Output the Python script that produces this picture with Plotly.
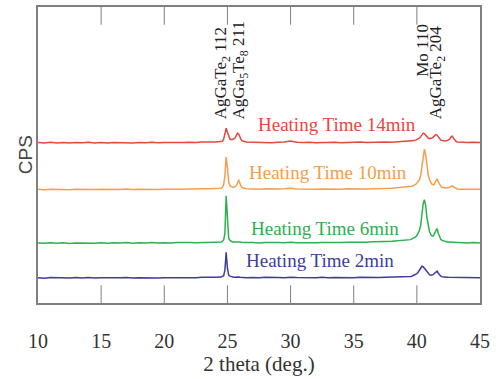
import plotly.graph_objects as go

# ---------------- data ----------------
# sampling positions in 2 theta (deg.)
x_a = [10, 10.5, 11, 11.5, 12, 12.5, 13, 13.5, 14, 14.5, 15, 15.5, 16, 16.5, 17,
       17.5, 18, 18.5, 19, 19.5, 20, 20.5, 21, 21.5, 22, 22.5, 23, 23.5, 24, 24.5]
x_b = [24.6, 24.7, 24.8, 24.9, 25.0, 25.1, 25.2, 25.3, 25.4, 25.5, 25.6, 25.7, 25.8,
       25.9, 26.0, 26.1, 26.2, 26.3, 26.4, 26.5]
x_c = [27, 27.5, 28, 28.5, 29, 29.5, 30, 30.5, 31, 31.5, 32, 32.5, 33, 33.5, 34, 34.5,
       35, 35.5, 36, 36.5, 37, 37.5, 38, 38.5, 39, 39.5]
x_d = [39.6, 39.7, 39.8, 39.9, 40.0, 40.1, 40.2, 40.3, 40.4, 40.5, 40.6, 40.7, 40.8,
       40.9, 41.0, 41.1, 41.2, 41.3, 41.4, 41.5, 41.6, 41.7, 41.8, 41.9, 42.0, 42.1,
       42.2, 42.3, 42.4, 42.5, 42.6, 42.7, 42.8, 42.9, 43.0, 43.1, 43.2]
x_e = [43.5, 44, 44.5, 45]
two_theta = x_a + x_b + x_c + x_d + x_e

series_names = ["Heating Time 2min", "Heating Time 6min", "Heating Time 10min", "Heating Time 14min"]
series_offsets = [25, 60, 114, 161]

cps_2min = (
    [0.4, 0.0, 0.6, 0.2, 0.5, 0.1, 0.6, 0.2, 0.7, 0.1, 0.5, 0.2, 0.6, 0.3, 0.6, 0.1,
     0.5, 0.3, 0.7, 0.2, 0.5, 0.4, 0.7, 0.4, 0.6, 0.5, 0.8, 0.6, 0.9, 1.1]
    + [1.5, 2.5, 8, 26, 10, 3, 2, 1.5, 1.2, 1.0, 1.0, 1.2, 1.3, 1.2, 1.0, 0.8, 0.9, 0.6, 0.8, 0.5]
    + [0.7, 0.3, 0.8, 0.4, 0.7, 0.5, 1.0, 0.6, 0.3, 0.7, 0.4, 0.8, 0.3, 0.7, 0.5, 0.9,
       0.4, 0.8, 0.6, 0.9, 0.7, 1.0, 1.0, 1.2, 1.4, 1.7]
    + [2, 2.5, 3, 3.5, 4.5, 6, 8.5, 11, 12, 11.5, 10, 8, 6, 4.5, 3.5, 3, 3, 3.5, 5, 6.5,
       7, 5, 3, 2, 1.5, 1.2, 1.0, 1.0, 0.9, 0.8, 0.8, 0.7, 0.7, 0.6, 0.6, 0.5, 0.5]
    + [0.6, 0.2, 0.6, 0.3]
)

cps_6min = (
    [0.5, 0.1, 0.7, 0.2, 0.6, 0.0, 0.5, 0.3, 0.8, 0.2, 0.6, 0.1, 0.7, 0.3, 0.8, 0.2,
     0.6, 0.3, 0.9, 0.3, 0.7, 0.4, 0.9, 0.5, 0.8, 0.6, 1.0, 0.8, 1.1, 1.4]
    + [2, 3.5, 10, 48, 20, 5, 3, 2, 1.5, 1.5, 1.5, 1.5, 1.8, 2, 1.5, 1.2, 1.0, 1.0, 0.8, 0.8]
    + [0.8, 0.4, 0.9, 0.5, 0.8, 0.6, 1.2, 0.7, 0.5, 0.9, 0.6, 1.0, 0.7, 1.1, 0.8, 1.2,
       1.0, 1.4, 1.2, 1.6, 1.5, 1.9, 2.1, 2.6, 3.1, 3.8]
    + [4.5, 5, 5.5, 6.5, 8, 10, 13, 18, 28, 40, 44, 38, 26, 17, 12, 9, 7.5, 7.5, 10, 14,
       15, 10, 6, 4, 3, 2.5, 2, 1.8, 1.5, 1.4, 1.3, 1.2, 1.2, 1.1, 1.0, 0.9, 0.8]
    + [0.7, 0.3, 0.8, 0.4]
)

cps_10min = (
    [0.4, 0.1, 0.6, 0.2, 0.5, 0.1, 0.6, 0.3, 0.7, 0.2, 0.5, 0.2, 0.6, 0.3, 0.7, 0.2,
     0.5, 0.3, 0.8, 0.3, 0.6, 0.4, 0.8, 0.5, 0.8, 0.6, 0.9, 1.0, 1.2, 1.6]
    + [2.5, 5, 14, 33, 22, 8, 4, 3, 2.5, 2.5, 3, 4, 7, 10, 6, 3, 2, 1.5, 1.2, 1.0]
    + [0.8, 0.4, 0.9, 0.5, 0.8, 0.9, 1.6, 0.8, 0.5, 0.9, 0.4, 0.8, 0.5, 0.9, 0.5, 0.9,
       0.6, 1.0, 0.7, 1.1, 0.9, 1.3, 1.5, 1.9, 2.4, 3.0]
    + [3.5, 4, 4.5, 5.5, 6.5, 8, 10, 14, 22, 34, 41, 35, 24, 15, 10, 7, 5.5, 5, 6, 9,
       11, 8, 5, 3.5, 2.5, 2, 1.8, 1.8, 2, 2.2, 2.5, 3.5, 4, 3, 2, 1.2, 0.8]
    + [0.6, 0.3, 0.7, 0.4]
)

cps_14min = (
    [0.5, 0.0, 0.8, 0.2, 0.6, 0.0, 0.5, 0.3, 0.9, 0.2, 0.6, 0.1, 0.7, 0.4, 0.8, 0.2,
     0.6, 0.3, 0.9, 0.4, 0.7, 0.5, 1.0, 0.6, 0.9, 0.5, 1.1, 0.8, 1.2, 1.5]
    + [2, 4, 9, 15, 11, 6, 4, 3.5, 3.5, 4, 5, 7, 10, 9, 5, 3, 2, 1.5, 1.2, 1.0]
    + [0.8, 0.5, 0.9, 0.4, 0.8, 1.0, 2.2, 0.8, 0.5, 0.9, 0.4, 0.8, 0.5, 0.9, 0.4, 0.8,
       0.6, 1.0, 0.5, 0.9, 0.6, 1.0, 0.8, 1.2, 1.3, 1.8]
    + [2, 2.2, 2.5, 3, 3.5, 4, 5, 6.5, 8.5, 10, 9.5, 8, 6, 5, 4.5, 4.5, 5, 6, 7.5, 8.5,
       8, 6, 4, 3, 2.5, 2.2, 2, 2.2, 2.5, 3, 4, 6, 7, 5, 3, 1.8, 1.2]
    + [0.8, 0.5, 0.9, 0.5]
)

series_values = [cps_2min, cps_6min, cps_10min, cps_14min]
series_colors = ["#3d3d9e", "#2eb04f", "#f59e4c", "#e9473d"]

x_ticks = [10, 15, 20, 25, 30, 35, 40, 45]

peak_labels = ["AgGaTe<sub>2</sub> 112", "AgGa<sub>5</sub>Te<sub>8</sub> 211",
               "Mo 110", "AgGaTe<sub>2</sub> 204"]
peak_label_x = [24.55, 25.98, 40.48, 41.6]
peak_label_y = [0.775, 0.785, 0.855, 0.78]

series_label_x = [32.33, 32.72, 32.96, 33.67]
series_label_y = [43, 75, 131, 180]

# ---------------- figure ----------------
fig = go.Figure()
for name, vals, off, col in zip(series_names, series_values, series_offsets, series_colors):
    fig.add_trace(go.Scatter(
        x=two_theta, y=[v + off for v in vals], mode="lines", name=name,
        line=dict(color=col, width=1.5), showlegend=False,
    ))

for name, lx, ly, col in zip(series_names, series_label_x, series_label_y, series_colors):
    fig.add_annotation(x=lx, y=ly, xref="x", yref="y", text=name, showarrow=False,
                       font=dict(family="Liberation Serif", size=19, color=col))

for txt, lx, ly in zip(peak_labels, peak_label_x, peak_label_y):
    fig.add_annotation(x=lx, y=ly, xref="x", yref="paper", text=txt, showarrow=False,
                       textangle=-90, xanchor="center", yanchor="middle",
                       font=dict(family="Liberation Serif", size=17, color="#222222"))

axis_col = "#808080"
tick_frac = 0.06  # inside tick length as a fraction of the plot height

# inside tick marks at bottom and top of the frame, one per x tick value
for tv in x_ticks[1:-1]:
    fig.add_shape(type="line", xref="x", yref="paper", x0=tv, x1=tv, y0=0, y1=tick_frac,
                  line=dict(color=axis_col, width=1), layer="above")
    fig.add_shape(type="line", xref="x", yref="paper", x0=tv, x1=tv, y0=1 - tick_frac, y1=1,
                  line=dict(color=axis_col, width=1), layer="above")

fig.add_annotation(x=-0.029, y=0.5, xref="paper", yref="paper", text="CPS",
                   showarrow=False, textangle=-90, xanchor="center", yanchor="middle",
                   font=dict(family="Liberation Sans", size=19, color="#444444"))

fig.update_xaxes(
    range=[10, 45], tickmode="array", tickvals=x_ticks, ticks="",
    showline=True, linecolor=axis_col, linewidth=2,
    mirror=True, showgrid=False, zeroline=False, ticklabelstandoff=19,
    tickfont=dict(family="Liberation Serif", size=20, color="#333333"),
    title=dict(text="2 theta (deg.)", standoff=4,
               font=dict(family="Liberation Serif", size=21, color="#333333")),
)
fig.update_yaxes(
    range=[0, 298], showticklabels=False, ticks="", showline=True, linecolor=axis_col,
    linewidth=2, mirror=True, showgrid=False, zeroline=False,
)
fig.update_layout(
    width=496, height=379, margin=dict(l=38, r=16, t=5, b=76),
    paper_bgcolor="white", plot_bgcolor="white",
)
fig.write_html("out.html")
